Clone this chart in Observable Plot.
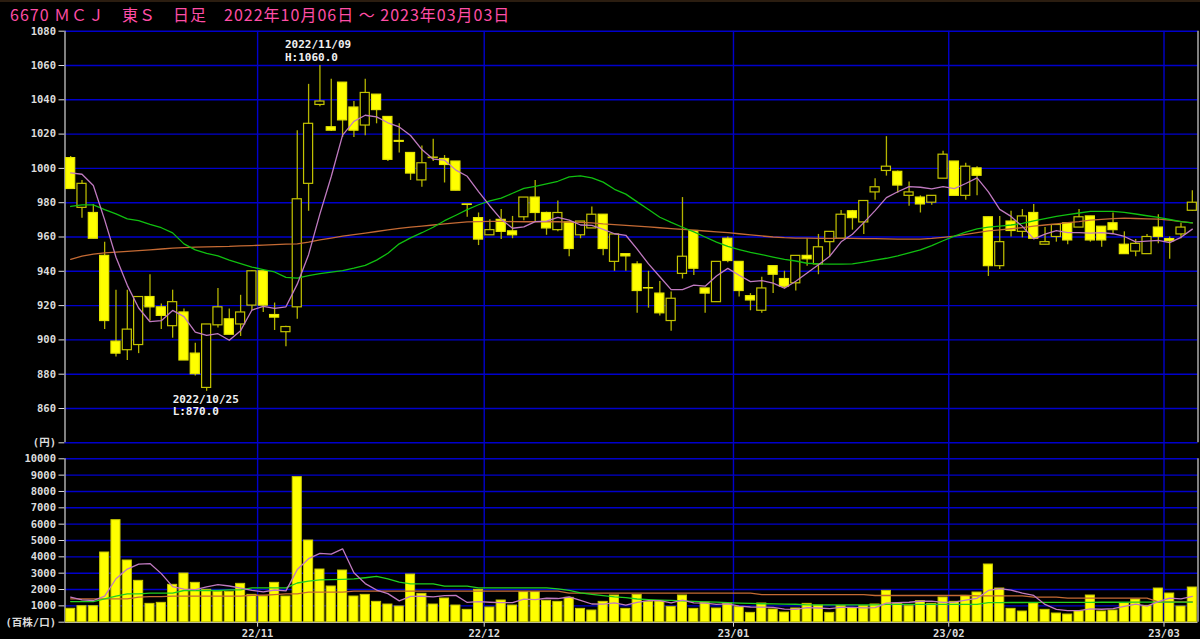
<!DOCTYPE html>
<html>
<head>
<meta charset="utf-8">
<script src="https://cdn.jsdelivr.net/npm/d3@7"></script>
<script src="https://cdn.jsdelivr.net/npm/@observablehq/plot@0.6"></script>
<style>
  html, body { margin: 0; padding: 0; background: #000; }
  #wrap { position: relative; width: 1200px; height: 639px; background: #000; overflow: hidden; }
  #topline { position: absolute; left: 0; top: 0; width: 1200px; height: 2px; background: #2b1d10; }
  #title { position: absolute; left: 10px; top: 4px; font-family: "Noto Sans CJK JP", sans-serif; font-size: 16px; line-height: 20px; color: #ff4da6; letter-spacing: 1px; white-space: pre; }
  #price { position: absolute; left: 0; top: 0; }
  #volume { position: absolute; left: 0; top: 442px; }
</style>
</head>
<body>
<div id="wrap">
  <div id="topline"></div>
  <div id="price"></div>
  <div id="volume"></div>
  <div id="title">6670 ＭＣＪ　東Ｓ　日足　2022年10月06日 ～ 2023年03月03日</div>
</div>
<script>
// ---- data (one entry per trading day, 2022-10-06 .. 2023-03-03) ----
const open = [1006,977,974,949,899,894,897,925,919,908, 916,892,872,908.5,912,909,920,940,914.5,904.5, 919,991,1037,1024,1050,1035.5,1025,1043,1030,1016, 1009,993,1006,1005.5,1004,979,971,961,970,963.3, 971.5,983,974,964,968.5,961,965,973,945.5,950, 944,930.2,927,911,938.5,963.5,930,922,959,945.5, 925.5,917,943,935.5,933,949,944,957,959,975, 968.5,986,998.5,998,984,983,980,994,1004,984, 1000,971.5,943,969,963,974,955.5,960,968,965.5, 972,966,968,955.5,951.5,950,965.5,958.8,961.5,975.3];
const high = [1007,993,979,957,929,929,925,938,921,929, 918,898,909,930,918,926,940.5,941,921.5,908, 1022,1049,1060,1052,1050,1039,1052,1043,1030,1026, 1009,1013,1017,1007.5,1004,979,974,970,976,972, 983,993,974.5,981,968.5,969,977.5,973,961.5,950, 945.5,940,934,928,983,963.5,930,945.5,960,945.5, 927,936.5,943,940,949,959,961.5,963,975.5,975.5, 981,994,1018.5,998.5,992,984,984,1010,1004,1003, 1001,971.5,972,975,976,979,965.5,967,968,976, 972,966,974,963,958.5,961.5,973,960,968,987];
const low = [988,971,959,906,890,888,892,911,906,901, 888,879,870,907,903,902,917,916,905.5,896, 912,975,1036,1021.5,1018,1018,1019,1026,1004,1009, 993,989,1004,991.5,987,971.5,955,961,958.5,959, 969.5,968.5,961,963,948.5,959,965,949,940,940, 915.5,918.5,914,905,935.5,937.5,915.5,922,945,925, 917,915.5,927,930,928.5,943,938,948.5,959,964, 961.5,981.5,995.5,985.5,978,974,978.5,994,984,981.5, 984,937,941,960,959.5,959,955.5,957,955.5,965.5, 957,954,961.5,950,948.5,950,956,947,959,975];
const close = [988,991,959,911,892,906,925,919,914,922, 888,880,909,919,903,916,940,920,913,907.5, 982,1026,1039,1022,1028,1022,1044,1034,1005,1015.5, 997,1003,1006.3,1002,987,978.7,958.5,964,963,961, 983,974,965,974,953,969,973,953,961.5,948.7, 928.5,930,915.5,924,948.5,941.5,927,945.5,946,928.5, 923,930,938,931,949,947,954,963,973,971, 981,989,1001,990,986,979,984,1008,984,1001, 995.7,943,957,963.5,972,959,957,967,958,971.5, 958,958,964,950,956,960,960,957.5,965.5,980];
const ma5 = [997.4,996.6,990,970,948.2,931.8,918.6,910.6,911.2,917.2, 913.6,904.6,902.6,903.6,899.8,905.4,917.4,919.6,918.4,919.3, 932.5,949.7,973.5,995.3,1019.4,1027.4,1031,1030,1026.6,1024.2, 1019.2,1011,1005.4,1004.8,999,995.4,986.5,978.1,970.3,965.1, 965.9,969,969.2,971.4,969.8,967,966.8,964.4,961.9,961, 952.9,944.3,936.8,929.3,929.3,931.9,931.3,937.3,941.7,937.7, 934,934.6,933.1,930.1,934.2,939,943.8,948.8,957.2,961.6, 968.4,975.4,983,986.4,989.4,989,988,989.4,988.2,991.2, 994.5,986.3,976.1,972,966.2,958.9,961.7,963.7,962.6,962.5, 962.3,962.5,961.9,960.3,957.2,957.6,958,956.7,959.8,964.6];
const ma25 = [977.8,978.7,978.7,976,973.5,970.6,969.6,967.3,965.4,962.4, 956,952.5,950.5,949,946.5,944.5,942.5,941,939.6,936.5, 936,937.5,938.7,939.5,940.4,941.8,943.5,946.5,950.5,956, 959.5,962.5,965.7,969.5,972.7,976,978.8,981,982.7,985.5, 988.3,989.5,991,992.5,995,995.7,994.5,992,987.8,985, 980.5,976,971.5,968.5,965.7,963,960,957,954.5,952.7, 951,949.7,948.3,947,946,944.7,944.3,944.2,944.2,944.3, 945.3,946.5,947.6,949,950.8,952.5,955,957.8,960.5,962.8, 964.7,965.8,966.4,967,967.9,969.4,970.7,972,973.1,974, 974.9,974.9,974.9,974.3,973.4,972.4,971.4,970.2,969,968.2];
const ma75 = [947,948.8,950,950.8,951.2,951.6,952,952.5,953,953.5, 953.8,954.1,954.3,954.4,954.5,954.8,955,955.3,955.6,955.8, 956,957,958.3,959.4,960.5,961.4,962.3,963.2,964.1,965, 965.8,966.4,967,967.6,968.2,968.8,969,969.1,969.1,969, 968.9,968.9,968.9,968.9,968.7,968.5,968.2,967.6,967.2,966.8, 966.3,965.9,965.4,964.9,964.5,964,963.5,963,962.5,961.9, 961.2,960.6,960,959.6,959.4,959.3,959.2,959.2,959.2,959.2, 959.1,959,958.9,958.8,958.8,958.8,959.2,959.8,960.5,961.5, 962.5,963.6,964.2,964.8,965.5,966.3,967,967.7,968.4,969, 969.8,970.3,970.7,971,970.8,970.6,970.4,969.8,969,968.2];
const volume = [820,980,980,4265,6245,3776,2531,1122,1184,2286, 2980,2408,1980,1857,1857,2347,1673,1571,2408,1571, 8878,5000,3224,2184,3163,1571,1673,1245,1082,960, 2918,1735,1082,1449,1020,755,1980,898,1327,1020, 1837,1837,1306,1245,1490,816,714,1245,1633,816, 1673,1245,1265,939,1633,816,1204,837,1122,918, 571,1143,776,592,837,1122,1020,571,980,857, 980,1082,1918,1143,980,1286,1122,1510,1245,1612, 1816,3531,2061,816,653,1143,755,531,469,673, 1633,653,714,1163,1388,1000,2061,1755,959,2122];
const vma5 = [1530,1367,1327,1600,2658,3249,3559,3588,2972,2180, 2021,1996,2168,2302,2216,2090,1943,1861,1971,1914, 3220,3886,4216,4171,4490,3028,2363,1967,1747,1306, 1576,1588,1555,1629,1641,1208,1257,1220,1196,1196, 1412,1384,1465,1449,1543,1339,1114,1102,1180,1045, 1216,1322,1326,1188,1351,1180,1171,1086,1122,979, 930,918,906,800,784,894,869,828,906,910, 882,894,1163,1196,1221,1282,1290,1208,1229,1355, 1461,1943,2053,1967,1775,1641,1086,780,710,714, 812,792,828,967,1110,984,1265,1473,1433,1579];
const vma25 = [1265,1265,1265,1430,1590,1735,1735,1775,1775,1775, 1940,1940,1940,1940,1980,1980,2100,2100,2100,2100, 2400,2510,2590,2600,2620,2650,2720,2800,2650,2450, 2347,2347,2347,2204,2204,2204,2102,2102,2102,2102, 2102,2102,2100,2041,1950,1800,1700,1620,1550,1500, 1420,1380,1350,1330,1300,1270,1250,1230,1200,1170, 1150,1130,1120,1110,1100,1065,1065,1065,1065,1065, 1065,1065,1090,1090,1090,1090,1090,1090,1090,1090, 1090,1200,1200,1205,1205,1210,1210,1210,1215,1215, 1215,1220,1220,1220,1225,1225,1225,1230,1230,1230];
const vma75 = [1430,1430,1430,1430,1430,1430,1530,1560,1560,1590, 1590,1590,1590,1590,1590,1590,1650,1650,1690,1735, 1735,1837,1837,1837,1837,1900,1900,1900,1900,1900, 1900,1900,1900,1900,1900,1900,1900,1900,1900,1900, 1900,1900,1900,1900,1776,1776,1776,1776,1776,1776, 1776,1776,1776,1776,1776,1776,1776,1776,1776,1776, 1776,1690,1690,1690,1690,1690,1690,1690,1690,1690, 1690,1633,1633,1633,1633,1633,1633,1633,1633,1633, 1612,1612,1612,1612,1612,1530,1530,1530,1470,1470, 1470,1470,1470,1470,1470,1470,1250,1250,1250,1250];

// month starts (index of first trading day) and their labels
const monthIdx = [17, 37, 59, 78, 97];
const monthLabels = ["22/11", "22/12", "23/01", "23/02", "23/03"];
// axis ticks
const priceTicks = [840, 860, 880, 900, 920, 940, 960, 980, 1000, 1020, 1040, 1060, 1080];
const priceTickLabels = ["(円)", "860", "880", "900", "920", "940", "960", "980", "1000", "1020", "1040", "1060", "1080"];
const volTicks = [0, 1000, 2000, 3000, 4000, 5000, 6000, 7000, 8000, 9000, 10000];
const volTickLabels = ["(百株/口)", "1000", "2000", "3000", "4000", "5000", "6000", "7000", "8000", "9000", "10000"];
// annotations
const highNote = {i: 22, value: 1060, date: "2022/11/09", label: "H:1060.0"};
const lowNote = {i: 12, value: 870, date: "2022/10/25", label: "L:870.0"};

// ---- build ----
const idx = d3.range(open.length);
const candles = idx.map(i => ({i, open: open[i], high: high[i], low: low[i], close: close[i]}));
const priceLabelMap = new Map(priceTicks.map((t, k) => [t, priceTickLabels[k]]));
const volLabelMap = new Map(volTicks.map((t, k) => [t, volTickLabels[k]]));
const monthLabelMap = new Map(monthIdx.map((t, k) => [t, monthLabels[k]]));

const BLUE = "#0000cc";
const GREY = "#b8b8b8";
const WICK = "#b4b400";
const C_MA5 = "#c07ac0", C_MA25 = "#10c010", C_MA75 = "#c46a34";
const axisFont = {background: "none", color: "#dcdcdc", fontFamily: "'DejaVu Sans Mono', 'Noto Sans CJK JP', monospace", fontSize: "10.5px", fontWeight: "bold"};
const noteFont = {textAnchor: "start", lineHeight: 1.1, fill: "#f0f0f0", fontSize: 11, fontWeight: "bold", fontFamily: "'DejaVu Sans Mono', monospace"};

const pricePlot = Plot.plot({
  width: 1200, height: 452,
  marginTop: 30.7, marginBottom: 9.7, marginLeft: 64.5, marginRight: 2.5,
  style: axisFont,
  x: {domain: [0, open.length], axis: null},
  y: {domain: [840, 1080], ticks: priceTicks, tickFormat: d => priceLabelMap.get(d), tickSize: 6, tickPadding: 3, label: null},
  color: {type: "identity"},
  marks: [
    Plot.ruleY(priceTicks, {stroke: BLUE, strokeWidth: 1.4}),
    Plot.ruleX(monthIdx, {stroke: BLUE, strokeWidth: 1.4}),
    Plot.ruleX([0, open.length], {y1: 840, y2: 1080, stroke: GREY, strokeWidth: 1.4}),
    Plot.ruleX(candles, {x: d => d.i + 0.5, y1: "low", y2: "high", stroke: WICK, strokeWidth: 1.3}),
    Plot.rect(candles, {
      x1: d => d.i + 0.1, x2: d => d.i + 0.9,
      y1: d => Math.min(d.open, d.close), y2: d => Math.max(d.open, d.close),
      fill: d => d.close < d.open ? "#ffff00" : "#000000",
      stroke: d => d.close < d.open ? "#e6e600" : "#c4c400",
      strokeWidth: 1.2
    }),
    Plot.line(idx, {x: i => i + 0.5, y: i => ma75[i], stroke: C_MA75, strokeWidth: 1.3}),
    Plot.line(idx, {x: i => i + 0.5, y: i => ma25[i], stroke: C_MA25, strokeWidth: 1.3}),
    Plot.line(idx, {x: i => i + 0.5, y: i => ma5[i], stroke: C_MA5, strokeWidth: 1.3}),
    Plot.text([highNote], {x: d => d.i + 0.5, y: "value", text: d => d.date + "\n" + d.label, lineAnchor: "bottom", dx: -35, dy: -5, ...noteFont}),
    Plot.text([lowNote], {x: d => d.i + 0.5, y: "value", text: d => d.date + "\n" + d.label, lineAnchor: "top", dx: -34, dy: 3, ...noteFont})
  ]
});
document.getElementById("price").appendChild(pricePlot);

const volumePlot = Plot.plot({
  width: 1200, height: 197,
  marginTop: 0, marginBottom: 17.3, marginLeft: 64.5, marginRight: 2.5,
  style: axisFont,
  x: {domain: [0, open.length], ticks: monthIdx, tickFormat: d => monthLabelMap.get(d), tickSize: 5, tickPadding: 2, label: null},
  y: {domain: [0, 10000], range: [179.7, 16.3], ticks: volTicks, tickFormat: d => volLabelMap.get(d), tickSize: 6, tickPadding: 3, label: null},
  marks: [
    Plot.ruleY(volTicks.filter(v => v > 0), {stroke: BLUE, strokeWidth: 1.4}),
    Plot.ruleX(monthIdx, {stroke: BLUE, strokeWidth: 1.4}),
    Plot.ruleX([0, open.length], {y1: 0, y2: 10000, stroke: GREY, strokeWidth: 1.4}),
    Plot.ruleY([0], {stroke: GREY, strokeWidth: 1.4}),
    Plot.rectY(idx, {x1: i => i + 0.1, x2: i => i + 0.9, y: i => volume[i], fill: "#ffff00", stroke: "#c8c800", strokeWidth: 1}),
    Plot.line(idx, {x: i => i + 0.5, y: i => vma75[i], stroke: C_MA75, strokeWidth: 1.3}),
    Plot.line(idx, {x: i => i + 0.5, y: i => vma25[i], stroke: "#20d020", strokeWidth: 1.3}),
    Plot.line(idx, {x: i => i + 0.5, y: i => vma5[i], stroke: C_MA5, strokeWidth: 1.3})
  ]
});
document.getElementById("volume").appendChild(volumePlot);
</script>
</body>
</html>
